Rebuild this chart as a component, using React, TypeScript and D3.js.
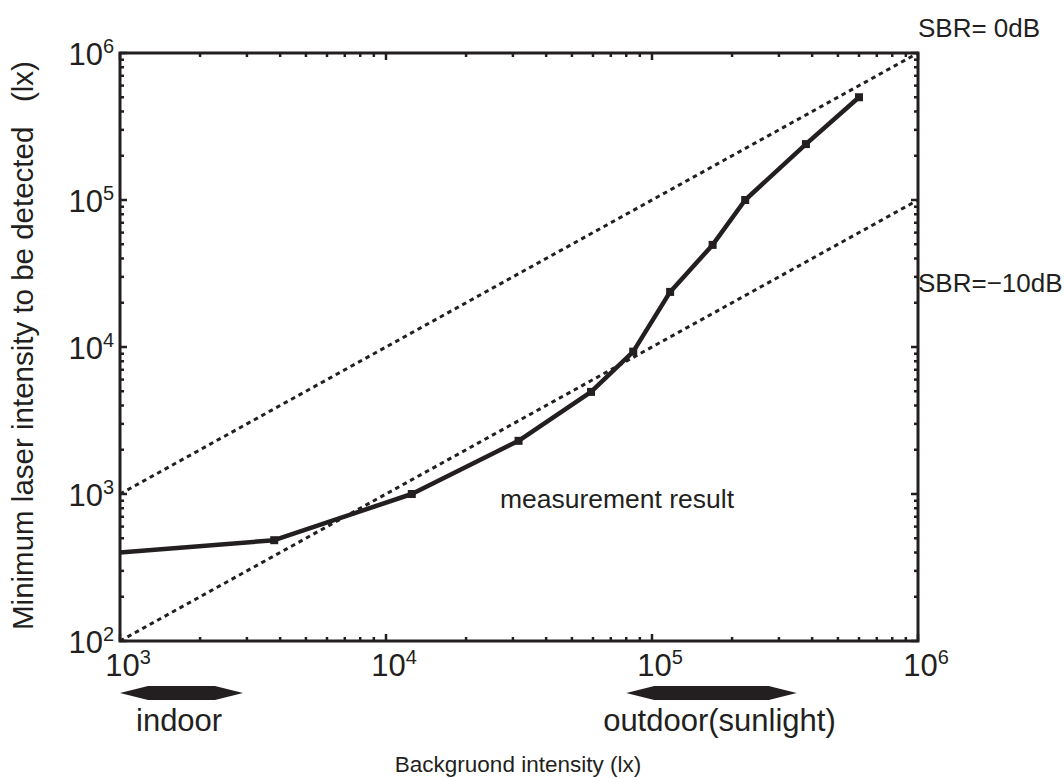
import React from "react";
import * as d3 from "d3";

// background intensity (lx) vs minimum detectable laser intensity (lx)
const bgIntensity = [1000, 3800, 12500, 31500, 59000, 85000, 117000, 169000, 224000, 379000, 600000];
const minLaser = [400, 485, 1000, 2300, 4950, 9300, 23700, 49500, 100000, 240000, 500000];

const sbrLevels = [0, -10];
const sbrLabels = ["SBR= 0dB", "SBR=\u221210dB"];

const xExponents = [3, 4, 5, 6];
const yExponents = [2, 3, 4, 5, 6];

const rangeNames = ["indoor", "outdoor(sunlight)"];
const rangeStarts = [1000, 80000];
const rangeEnds = [2900, 350000];

const W = 1064;
const H = 778;
const left = 120, right = 918, top = 53, bottom = 641;
const ink = "#231f20";
const font = "'Liberation Sans', Arial, Helvetica, sans-serif";
const sbrLabelY = [37, 292];

export default function App() {
  const x = d3.scaleLog().domain([1e3, 1e6]).range([left, right]);
  const y = d3.scaleLog().domain([1e2, 1e6]).range([bottom, top]);

  const line = d3.line<number>()
    .x((_, i) => x(bgIntensity[i]))
    .y(d => y(d));

  const isMajor = (v: number) => Math.abs(Math.log10(v) - Math.round(Math.log10(v))) < 1e-9;
  const xTicks = x.ticks();
  const yTicks = y.ticks();

  return (
    <svg width={W} height={H} style={{position: "absolute", left: 0, top: 0}} fontFamily={font}>
      <rect width={W} height={H} fill="#fff" />

      {/* SBR reference lines */}
      {sbrLevels.map((db, i) => {
        const k = Math.pow(10, db / 10);
        return (
          <line key={i} x1={x(1e3)} y1={y(1e3 * k)} x2={x(1e6)} y2={y(1e6 * k)}
            stroke={ink} strokeWidth={3} strokeDasharray="4.5 4" />
        );
      })}

      {/* measurement */}
      <path d={line(minLaser) || ""} fill="none" stroke={ink} strokeWidth={4.5} strokeLinejoin="round" />
      {minLaser.slice(1).map((v, i) => (
        <rect key={i} x={x(bgIntensity[i + 1]) - 4} y={y(v) - 4} width={8} height={8} fill={ink} />
      ))}

      {/* frame and ticks */}
      <rect x={left} y={top} width={right - left} height={bottom - top} fill="none" stroke={ink} strokeWidth={3} />
      {xTicks.map((t, i) => {
        const len = isMajor(t) ? 7 : 4;
        return (
          <g key={"x" + i} stroke={ink} strokeWidth={2.5}>
            <line x1={x(t)} x2={x(t)} y1={bottom} y2={bottom - len} />
            <line x1={x(t)} x2={x(t)} y1={top} y2={top + len} />
          </g>
        );
      })}
      {yTicks.map((t, i) => {
        const len = isMajor(t) ? 7 : 4;
        return (
          <g key={"y" + i} stroke={ink} strokeWidth={2.5}>
            <line x1={left} x2={left + len} y1={y(t)} y2={y(t)} />
            <line x1={right} x2={right - len} y1={y(t)} y2={y(t)} />
          </g>
        );
      })}

      {/* tick labels */}
      {xExponents.map(e => (
        <text key={"xl" + e} x={x(Math.pow(10, e)) + 8} y={bottom + 35} textAnchor="middle" fontSize={31} fill={ink}>
          10<tspan fontSize={20} dy={-12}>{e}</tspan>
        </text>
      ))}
      {yExponents.map(e => (
        <text key={"yl" + e} x={left - 6} y={y(Math.pow(10, e)) + 12} textAnchor="end" fontSize={31} fill={ink}>
          10<tspan fontSize={20} dy={-12}>{e}</tspan>
        </text>
      ))}

      {/* annotations */}
      {sbrLabels.map((s, i) => (
        <text key={"s" + i} x={right} y={sbrLabelY[i]} fontSize={26} fill={ink}>{s}</text>
      ))}
      <text x={617} y={508} textAnchor="middle" fontSize={26.5} fill={ink}>measurement result</text>

      {/* indoor / outdoor ranges */}
      {rangeNames.map((n, i) => {
        const a = x(rangeStarts[i]);
        const b = x(rangeEnds[i]);
        const cy = 693;
        const pts = [[a, cy], [a + 28, cy - 7], [b - 28, cy - 7], [b, cy], [b - 28, cy + 7], [a + 28, cy + 7]];
        return (
          <g key={"r" + i}>
            <polygon points={pts.map(p => p.join(",")).join(" ")} fill={ink} />
            <text x={i === 0 ? 136 : (a + b) / 2 + 8} y={731} textAnchor={i === 0 ? "start" : "middle"} fontSize={31} fill={ink}>{n}</text>
          </g>
        );
      })}

      {/* axis titles */}
      <text x={518} y={772} textAnchor="middle" fontSize={22.5} fill={ink}>Backgruond intensity (lx)</text>
      <text transform={`translate(33,630) rotate(-90)`} textAnchor="start" fontSize={29.5}
        fill={ink} style={{whiteSpace: "pre"}}>Minimum laser intensity to be detected   (lx)</text>
    </svg>
  );
}
